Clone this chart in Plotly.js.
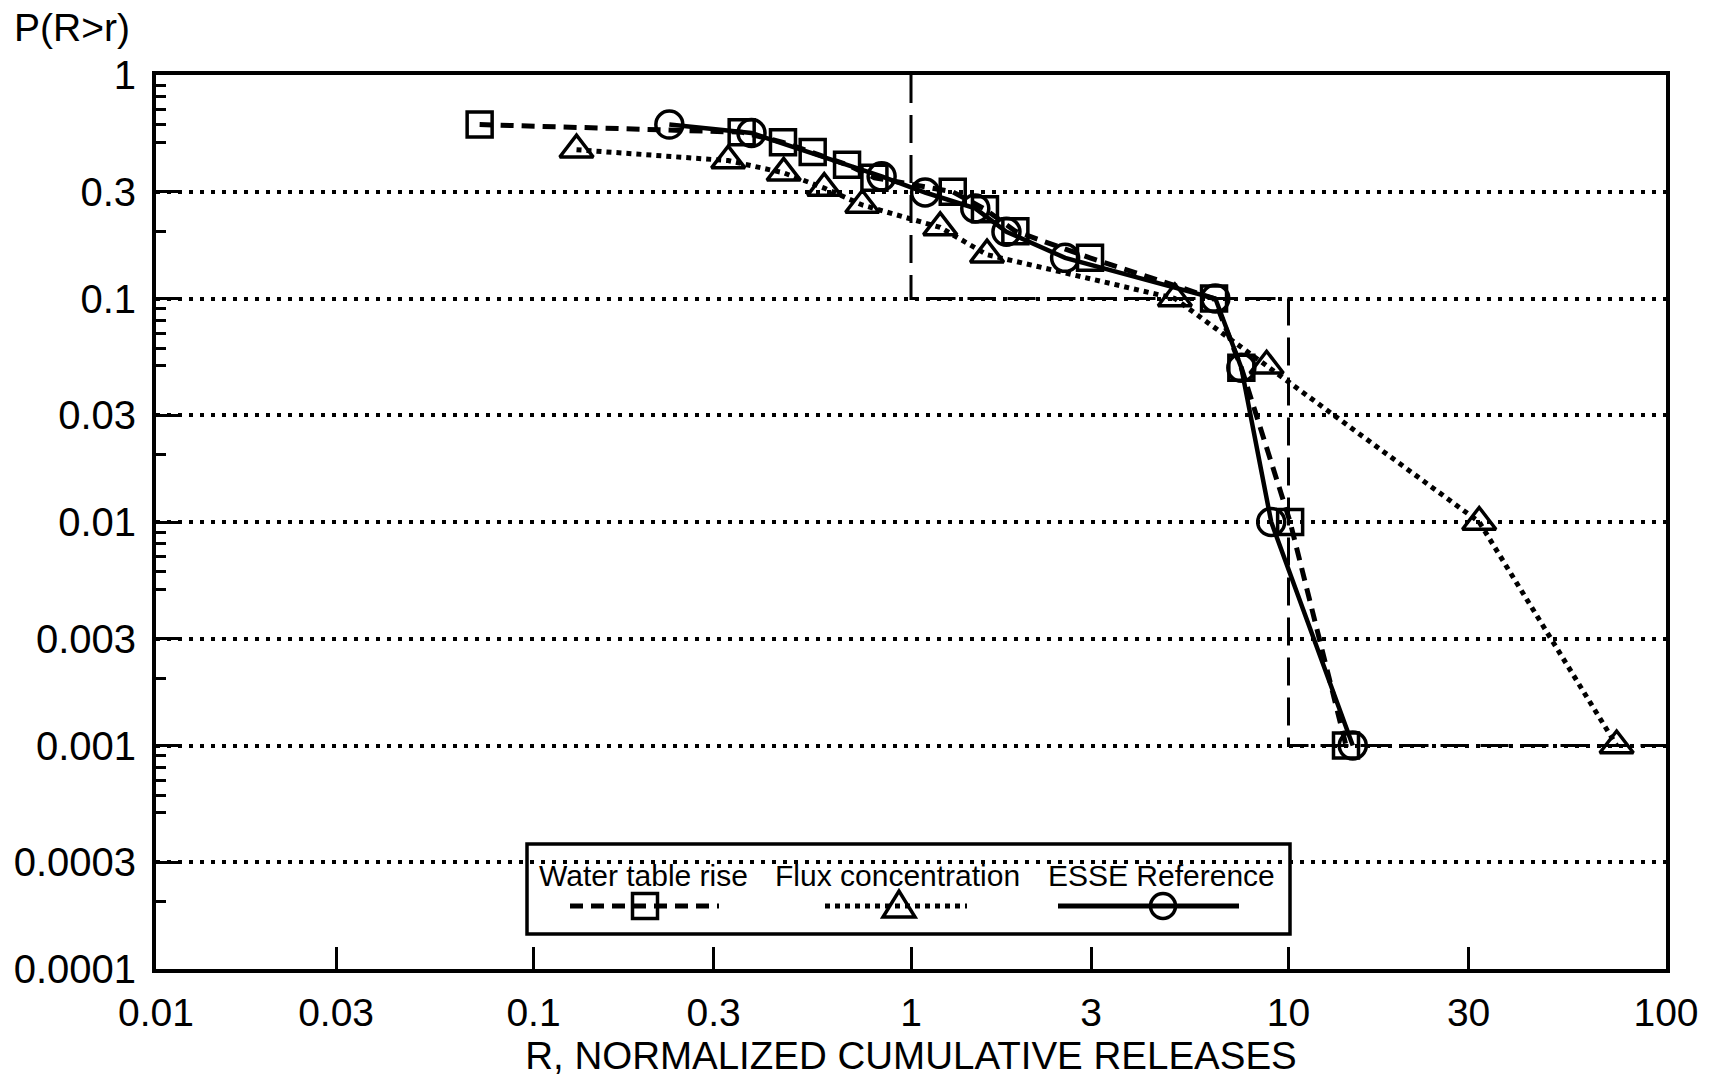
<!DOCTYPE html>
<html>
<head>
<meta charset="utf-8">
<script src="https://cdn.plot.ly/plotly-3.0.1.min.js"></script>
<style>
  html, body { margin: 0; padding: 0; background: #ffffff; }
  #chart { width: 1709px; height: 1082px; }
</style>
</head>
<body>
<div id="chart"></div>
<script>
// ---------------- data ----------------
const waterX = [0.072, 0.356, 0.458, 0.549, 0.677, 0.80, 1.29, 1.57, 1.89, 2.98, 6.35, 7.5, 10.1, 14.2];
const waterY = [0.60, 0.555, 0.50, 0.452, 0.397, 0.347, 0.30, 0.251, 0.20, 0.152, 0.10, 0.049, 0.010, 0.001];

const fluxX = [0.130, 0.328, 0.460, 0.589, 0.743, 1.195, 1.59, 5.0, 8.75, 32.0, 74.0];
const fluxY = [0.463, 0.414, 0.365, 0.312, 0.262, 0.208, 0.157, 0.100, 0.050, 0.010, 0.001];

const esseX = [0.229, 0.378, 0.836, 1.09, 1.48, 1.79, 2.56, 6.4, 7.5, 9.0, 14.8];
const esseY = [0.60, 0.550, 0.352, 0.298, 0.253, 0.199, 0.152, 0.100, 0.049, 0.010, 0.001];

// limit step line (dashed)
const limitX = [1, 1, 10, 10, 100];
const limitY = [1, 0.1, 0.1, 0.001, 0.001];

const seriesNames = ["Water table rise", "Flux concentration", "ESSE Reference"];

const xTickVals = [0.01, 0.03, 0.1, 0.3, 1, 3, 10, 30, 100];
const xTickText = ["0.01", "0.03", "0.1", "0.3", "1", "3", "10", "30", "100"];
const yTickVals = [1, 0.3, 0.1, 0.03, 0.01, 0.003, 0.001, 0.0003, 0.0001];
const yTickText = ["1", "0.3", "0.1", "0.03", "0.01", "0.003", "0.001", "0.0003", "0.0001"];

const yTitleText = "P(R>r)";
const xTitleText = "R, NORMALIZED CUMULATIVE RELEASES";

// ---------------- styling ----------------
const FONT = "Liberation Sans, Arial, Helvetica, sans-serif";
const W = 1709, H = 1082;
const M = { l: 156, r: 43, t: 75, b: 113 };
const plotW = W - M.l - M.r, plotH = H - M.t - M.b;
const px = x => (x - M.l) / plotW;          // pixel -> paper (x)
const py = y => (H - M.b - y) / plotH;      // pixel -> paper (y)

const DASH_W = "13px,8px";
const DOT_F = "5px,5px";

// minor ticks on the y axis (2,5,6,7,8,9 of each decade)
const minorMult = [2, 5, 6, 7, 8, 9];
const yMinor = [];
for (let e = -4; e < 0; e++) {
  minorMult.forEach(m => yMinor.push(m * Math.pow(10, e)));
}

const traces = [
  {
    x: limitX, y: limitY, type: "scatter", mode: "lines",
    line: { color: "#000", width: 3, dash: "28px,12px" },
    hoverinfo: "skip", showlegend: false
  },
  {
    x: fluxX, y: fluxY, type: "scatter", mode: "lines+markers", name: seriesNames[1],
    line: { color: "#000", width: 5, dash: DOT_F },
    marker: { symbol: "triangle-up-open", size: 29, color: "#000", line: { width: 3.5, color: "#000" } },
    showlegend: false
  },
  {
    x: waterX, y: waterY, type: "scatter", mode: "lines+markers", name: seriesNames[0],
    line: { color: "#000", width: 5, dash: DASH_W },
    marker: { symbol: "square-open", size: 25, color: "#000", line: { width: 3.5, color: "#000" } },
    showlegend: false
  },
  {
    x: esseX, y: esseY, type: "scatter", mode: "lines+markers", name: seriesNames[2],
    line: { color: "#000", width: 4.5 },
    marker: { symbol: "circle-open", size: 27, color: "#000", line: { width: 3.5, color: "#000" } },
    showlegend: false
  }
];

// ---------------- manual legend (text above the samples) ----------------
const legBox = { x0: 527, x1: 1290, y0: 844, y1: 934 };
const legTextY = 875, legLineY = 906;
const legItems = [
  { text: seriesNames[0], cx: 643, l0: 570, l1: 719, mx: 645, dash: DASH_W, mark: "square" },
  { text: seriesNames[1], cx: 897, l0: 825, l1: 967, mx: 899, dash: DOT_F, mark: "triangle" },
  { text: seriesNames[2], cx: 1161, l0: 1058, l1: 1239, mx: 1163, dash: "solid", mark: "circle" }
];

const shapes = [
  { type: "rect", xref: "paper", yref: "paper",
    x0: px(legBox.x0), x1: px(legBox.x1), y0: py(legBox.y1), y1: py(legBox.y0),
    line: { color: "#000", width: 3.5 }, fillcolor: "rgba(0,0,0,0)", layer: "above" }
];
const annotations = [
  { xref: "paper", yref: "paper", x: px(12), y: py(27), xanchor: "left", yanchor: "middle",
    text: yTitleText, showarrow: false, font: { family: FONT, size: 39, color: "#000" } }
];
legItems.forEach(it => {
  shapes.push({ type: "line", xref: "paper", yref: "paper",
    x0: px(it.l0), x1: px(it.l1), y0: py(legLineY), y1: py(legLineY),
    line: { color: "#000", width: 5, dash: it.dash }, layer: "above" });
  const s = 12.5;
  if (it.mark === "square") {
    shapes.push({ type: "rect", xref: "paper", yref: "paper",
      x0: px(it.mx - s), x1: px(it.mx + s), y0: py(legLineY + s), y1: py(legLineY - s),
      line: { color: "#000", width: 3.5 }, fillcolor: "rgba(0,0,0,0)", layer: "above" });
  } else if (it.mark === "circle") {
    shapes.push({ type: "circle", xref: "paper", yref: "paper",
      x0: px(it.mx - s), x1: px(it.mx + s), y0: py(legLineY + s), y1: py(legLineY - s),
      line: { color: "#000", width: 3.5 }, fillcolor: "rgba(0,0,0,0)", layer: "above" });
  } else {
    const ax = px(it.mx), ay = py(legLineY - 15);
    const bl = px(it.mx - 16), br = px(it.mx + 16), by = py(legLineY + 11);
    shapes.push({ type: "path", xref: "paper", yref: "paper",
      path: `M ${bl} ${by} L ${br} ${by} L ${ax} ${ay} Z`,
      line: { color: "#000", width: 3.5 }, fillcolor: "rgba(0,0,0,0)", layer: "above" });
  }
  annotations.push({ xref: "paper", yref: "paper", x: px(it.cx), y: py(legTextY),
    xanchor: "center", yanchor: "middle", text: it.text, showarrow: false,
    font: { family: FONT, size: 30, color: "#000" } });
});

const layout = {
  width: W, height: H,
  margin: M,
  paper_bgcolor: "#ffffff", plot_bgcolor: "#ffffff",
  font: { family: FONT, size: 38, color: "#000" },
  showlegend: false,
  xaxis: {
    type: "log", range: [-2, 2],
    tickmode: "array", tickvals: xTickVals, ticktext: xTickText,
    ticks: "inside", ticklen: 22, tickwidth: 3, tickcolor: "#000",
    ticklabelstandoff: 6,
    showgrid: false, zeroline: false,
    showline: true, linewidth: 4, linecolor: "#000", mirror: true,
    tickfont: { family: FONT, size: 39, color: "#000" },
    title: { text: xTitleText, standoff: 10, font: { family: FONT, size: 38.5, color: "#000" } },
    automargin: false
  },
  yaxis: {
    type: "log", range: [-4, 0],
    tickmode: "array", tickvals: yTickVals, ticktext: yTickText,
    ticks: "inside", ticklen: 24, tickwidth: 3, tickcolor: "#000",
    ticklabelstandoff: 8,
    showgrid: true, gridcolor: "#000", gridwidth: 4, griddash: "4px,7px",
    minor: { tickmode: "array", tickvals: yMinor, ticks: "inside", ticklen: 10, tickwidth: 3, tickcolor: "#000", showgrid: false },
    zeroline: false,
    showline: true, linewidth: 4, linecolor: "#000", mirror: true,
    tickfont: { family: FONT, size: 40, color: "#000" },
    automargin: false
  },
  shapes: shapes,
  annotations: annotations
};

Plotly.newPlot("chart", traces, layout, { displayModeBar: false, staticPlot: true });
</script>
</body>
</html>
